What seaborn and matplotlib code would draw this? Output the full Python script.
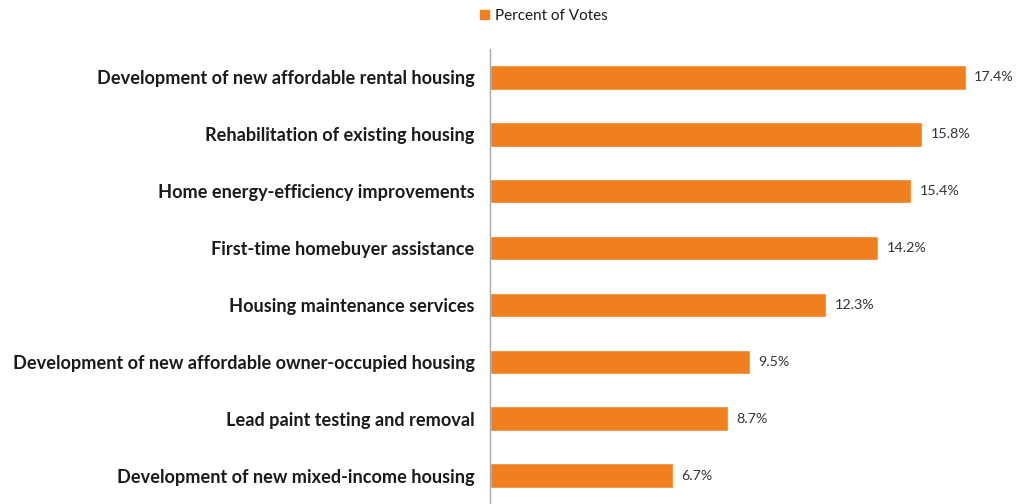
import matplotlib
matplotlib.use("Agg")
import matplotlib.pyplot as plt
import seaborn as sns
import pandas as pd

categories = [
    "Development of new affordable rental housing",
    "Rehabilitation of existing housing",
    "Home energy-efficiency improvements",
    "First-time homebuyer assistance",
    "Housing maintenance services",
    "Development of new affordable owner-occupied housing",
    "Lead paint testing and removal",
    "Development of new mixed-income housing",
]
percent_votes = [17.4, 15.8, 15.4, 14.2, 12.3, 9.5, 8.7, 6.7]
series_name = "Percent of Votes"

df = pd.DataFrame({"category": categories, "value": percent_votes})

sns.set_theme(style="white")
plt.rcParams["font.family"] = ["Lato", "DejaVu Sans"]

fig = plt.figure(figsize=(10.19, 5.04), dpi=100)
ax = fig.add_axes([490 / 1019, 0.0, 528 / 1019, (504 - 49) / 504])

bar_color = "#EF7F1F"
sns.barplot(data=df, x="value", y="category", color=bar_color, width=0.43,
            saturation=1, ax=ax, orient="h")

ax.set_xlim(0, 19.3)
ax.set_ylim(7.5, -0.5)
ax.set_xlabel("")
ax.set_ylabel("")
ax.set_xticks([])
for s in ["top", "right", "bottom"]:
    ax.spines[s].set_visible(False)
ax.spines["left"].set_color("#A8A8A8")
ax.spines["left"].set_linewidth(1.0)
ax.tick_params(axis="y", length=0, pad=11)
for lbl in ax.get_yticklabels():
    lbl.set_fontsize(13.1)
    lbl.set_fontweight("bold")
    lbl.set_color("#1A1A1A")

for patch, v in zip(ax.patches, percent_votes):
    y = patch.get_y() + patch.get_height() / 2
    ax.text(v + 0.3, y, f"{v}%", va="center", ha="left",
            fontsize=10.3, color="#333333")

handle = plt.Rectangle((0, 0), 1, 1, color=bar_color)
fig.legend([handle], [series_name], loc="center",
           bbox_to_anchor=(544 / 1019, 1 - 16 / 504), frameon=False,
           fontsize=11, handlelength=0.6, handleheight=0.6,
           handletextpad=0.4, labelcolor="#1A1A1A")

fig.savefig("out.png", dpi=100)
